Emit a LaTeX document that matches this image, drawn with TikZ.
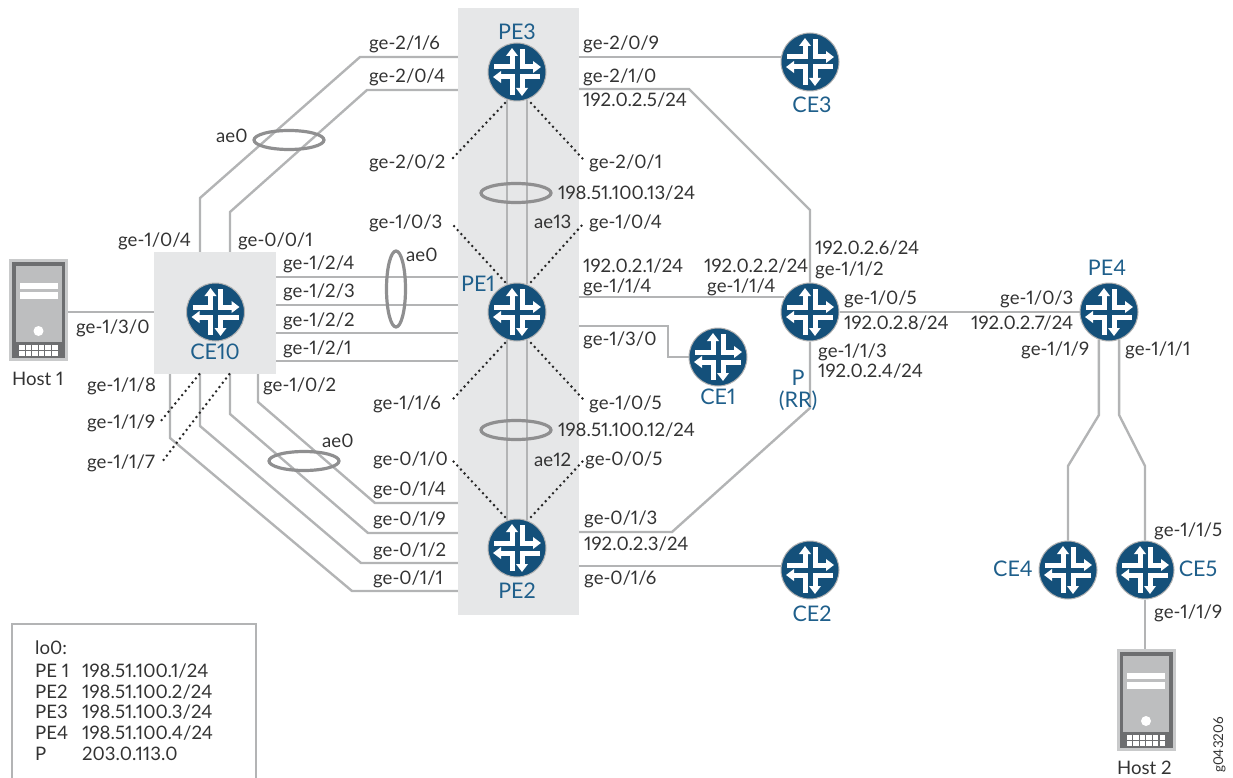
\documentclass[tikz,border=0pt]{standalone}
\usepackage{fontspec}
\setmainfont{Lato}[Numbers=Proportional]
\usepackage{xcolor}
\usetikzlibrary{arrows.meta,positioning,shapes.geometric,backgrounds}
\definecolor{junosblue}{HTML}{14507A}
\definecolor{labelblue}{HTML}{1F5F8B}
\definecolor{linkgray}{HTML}{B3B4B5}
\definecolor{boxgray}{HTML}{E6E7E8}
\definecolor{lagray}{HTML}{8F8F90}
\definecolor{hostdark}{HTML}{6D6E70}
\definecolor{hostlight}{HTML}{BDBEBF}
\definecolor{hostrim}{HTML}{C9CACB}
\definecolor{textgray}{HTML}{333333}

\begin{document}
\begin{tikzpicture}[x=1pt,y=-1pt]
% STYLES
\tikzset{
    router/.style={circle, draw=gray!60, fill=junosblue, line width=1pt, minimum size=58pt, inner sep=0pt,
    path picture={
      \begin{scope}[shift={(path picture bounding box.center)}, white, line width=5pt,
          arrows={-{Triangle[width=11.5pt,length=8pt]}}]
        \draw[line cap=butt] (-23,-5) -- (-5,-5) -- (-5,-24);
        \draw[line cap=butt] (5,-23) -- (5,-5) -- (24,-5);
        \draw[line cap=butt] (-5,23) -- (-5,5) -- (-24,5);
        \draw[line cap=butt] (23,5) -- (5,5) -- (5,24);
      \end{scope}}},
    hostbox/.style={rectangle, draw=hostrim, fill=hostdark, line width=3pt, minimum width=56pt, minimum height=99pt, inner sep=0pt,
    path picture={
      \begin{scope}[shift={(path picture bounding box.center)}]
        \fill[hostlight] (-23,-44) rectangle (23,32);
        \fill[white] (-19,-27) rectangle (19,-21);
        \fill[white] (-19,-18) rectangle (19,-11);
        \fill[white] (0,21) circle (5);
        \foreach \col in {0,...,5} \foreach \row in {0,1}
          \fill[white] (-19.5+6.6*\col,35+6*\row) rectangle ++(5.5,5);
      \end{scope}}},
    lbl/.style={anchor=west, inner sep=0pt, text=textgray, text height=13pt, text depth=1pt, font=\fontsize{18.6}{20}\selectfont},
    rname/.style={inner sep=0pt, text=labelblue, font=\fontsize{21.5}{22}\selectfont},
    link/.style={draw=linkgray, line width=2.4pt, line join=miter},
    dots/.style={draw=black!85, line width=2.8pt, line cap=round, dash pattern=on 0pt off 5.4pt},
    lag/.style={ellipse, draw=lagray, line width=3.2pt, inner sep=0pt},
    grpbox/.style={rectangle, fill=boxgray, inner sep=0pt}
}
\useasboundingbox (0,0) rectangle (1233,778);

% routers
\node [router] (PE3) at (517,72) {};
\node [router, below=181pt of PE3] (PE1) {};
\node [router, below=177pt of PE1] (PE2) {};
\node [router, left=242.5pt of PE1] (CE10) {};
\node [router, right=234pt of PE1] (P) {};
\node [router, right=240pt of P] (PE4) {};
\node [router] (CE3) at (810,62) {};
\node [router] (CE1) at (718,357) {};
\node [router] (CE2) at (810,570) {};
\node [router] (CE4) at (1068,570) {};
\node [router, right=18pt of CE4] (CE5) {};
\node [hostbox] (Host1) at (38.5,310) {};
\node [hostbox] (Host2) at (1146,700) {};

% Draw the links between
\begin{scope}[on background layer]
\draw[link] (CE10) -- (CE10 -| Host1.east);
\draw[link] (CE10) -| (200,198) -- (360,57) -| (PE3);
\draw[link] (CE10) -| (230,212) -- (367,90) -| (PE3);
\foreach \y in {277,305,333,361}
  \draw[link] (CE10) |- (400,\y) -| (PE1);
\draw[link] (CE10) -| (170,438) -- (352,591) -| (PE2);
\draw[link] (CE10) -| (200,426) -- (361,563) -| (PE2);
\draw[link] (CE10) -| (230,414) -- (368,533) -| (PE2);
\draw[link] (CE10) -| (258,402) -- (375,503) -| (PE2);
\draw[link] (PE3) |- (CE3.170);
\draw[link] (PE3) |- (689,89) -- (810,210) -- (P);
\draw[link] (PE1) |- (P.150);
\draw[link] (PE1) |- (668,326) |- (CE1);
\draw[link] (P) -- (PE4);
\draw[link] (P) -- (810,408) -- (672,532) -| (PE2);
\draw[link] (PE2) |- (CE2.172);
\draw[link] (PE4.250) -- (PE4.250 |- 0,415) -- (1068,466) -- (CE4);
\draw[link] (PE4.290) -- (PE4.290 |- 0,415) -- (1145,466) -- (CE5);
\draw[link] (CE5) -- (CE5 |- Host2.north);
% grey panels on top of the link ends
\node [grpbox, minimum width=121pt, minimum height=607pt] (corebox) at (518,311.5) {};
\node [grpbox, minimum width=122pt, minimum height=122pt] (edgebox) at (215.3,313) {};
% lines inside the panel
\draw[link] (PE3.250) -- (PE1.110);
\draw[link] (PE3.290) -- (PE1.70);
\draw[link] (PE1.250) -- (PE2.110);
\draw[link] (PE1.290) -- (PE2.70);
\draw[dots] (PE3) ++(-12,31) -- (453,158);
\draw[dots] (PE3) ++(14,31) -- (583,159);
\draw[dots] (PE1) ++(-12,-30) -- (453,225);
\draw[dots] (PE1) ++(14,-30) -- (583,224);
\draw[dots] (PE1) ++(-12,31) -- (453,399);
\draw[dots] (PE1) ++(14,31) -- (583,399);
\draw[dots] (PE2) ++(-12,-31) -- (453,461);
\draw[dots] (PE2) ++(14,-31) -- (583,461);
\draw[dots] (edgebox.south) ++(-16,0) -- (160,422);
\draw[dots] (edgebox.south) ++(14,0) -- (162,462);
\end{scope}

% link aggregation rings
\node [lag, minimum width=70pt, minimum height=19pt] (aeTop) at (289,140) {};
\node [lag, minimum width=19pt, minimum height=76pt] (aeMid) at (396,289) {};
\node [lag, minimum width=70pt, minimum height=19pt] (aeLow) at (304,461) {};
\node [lag, minimum width=70pt, minimum height=19pt] (aeThirteen) at (516,193) {};
\node [lag, minimum width=70pt, minimum height=19pt] (aeTwelve) at (516,430) {};

% router names
\node [rname] (namePE3) at (517,32) {PE3};
\node [rname] (namePE1) at (478,284) {PE1};
\node [rname] (namePE2) at (517,591) {PE2};
\node [rname] (nameCE10) at (215,352) {CE10};
\node [rname] (nameCE3) at (812,105) {CE3};
\node [rname] (nameCE1) at (718,397) {CE1};
\node [rname] (nameCE2) at (812,614) {CE2};
\node [rname] (nameCE4) at (1013,569) {CE4};
\node [rname] (nameCE5) at (1198,569) {CE5};
\node [rname] (namePE4) at (1107,268) {PE4};
\node [rname, align=center] (nameP) at (798,390) {P\\(RR)};

% port labels
\node [lbl] (portCEa) at (118,240) {ge-1/0/4};
\node [lbl] (portCEb) at (238,240) {ge-0/0/1};
\node [lbl] (portCEc) at (283,263) {ge-1/2/4};
\node [lbl] (portCEd) at (283,291) {ge-1/2/3};
\node [lbl] (portCEe) at (283,320) {ge-1/2/2};
\node [lbl] (portCEf) at (283,348) {ge-1/2/1};
\node [lbl] (portCEg) at (76,327) {ge-1/3/0};
\node [lbl] (portCEh) at (87,385) {ge-1/1/8};
\node [lbl] (portCEi) at (87,422) {ge-1/1/9};
\node [lbl] (portCEj) at (87,462) {ge-1/1/7};
\node [lbl] (portCEk) at (263,385) {ge-1/0/2};
\node [lbl] (aeTopName) at (216,137) {ae0};
\node [lbl] (aeMidName) at (406,255) {ae0};
\node [lbl] (aeLowName) at (322,441) {ae0};
\node [lbl] (hostOne) at (12,379) {Host 1};

\node [lbl] (portThreeA) at (369,44) {ge-2/1/6};
\node [lbl] (portThreeB) at (369,77) {ge-2/0/4};
\node [lbl] (portThreeC) at (369,162) {ge-2/0/2};
\node [lbl] (portThreeD) at (583,44) {ge-2/0/9};
\node [lbl] (portThreeE) at (583,77) {ge-2/1/0};
\node [lbl] (ipThreeE) at (583,101) {192.0.2.5/24};
\node [lbl] (portThreeF) at (589,162) {ge-2/0/1};
\node [lbl] (ipThirteen) at (558,193) {198.51.100.13/24};
\node [lbl] (aeThirteenName) at (534,222) {ae13};

\node [lbl] (portOneA) at (369,222) {ge-1/0/3};
\node [lbl] (portOneB) at (589,222) {ge-1/0/4};
\node [lbl] (ipOneC) at (583,266) {192.0.2.1/24};
\node [lbl] (portOneC) at (583,286) {ge-1/1/4};
\node [lbl] (portOneD) at (583,339) {ge-1/3/0};
\node [lbl] (portOneE) at (373,403) {ge-1/1/6};
\node [lbl] (portOneF) at (589,403) {ge-1/0/5};
\node [lbl] (ipTwelve) at (558,430) {198.51.100.12/24};
\node [lbl] (aeTwelveName) at (534,460) {ae12};

\node [lbl] (portTwoA) at (373,459) {ge-0/1/0};
\node [lbl] (portTwoB) at (373,489) {ge-0/1/4};
\node [lbl] (portTwoC) at (373,519) {ge-0/1/9};
\node [lbl] (portTwoD) at (373,550) {ge-0/1/2};
\node [lbl] (portTwoE) at (373,578) {ge-0/1/1};
\node [lbl] (portTwoF) at (585,459) {ge-0/0/5};
\node [lbl] (portTwoG) at (584,518) {ge-0/1/3};
\node [lbl] (ipTwoG) at (584,544) {192.0.2.3/24};
\node [lbl] (portTwoH) at (584,578) {ge-0/1/6};

\node [lbl] (ipPa) at (704,266) {192.0.2.2/24};
\node [lbl] (portPa) at (707,286) {ge-1/1/4};
\node [lbl] (ipPb) at (815,248) {192.0.2.6/24};
\node [lbl] (portPb) at (815,269) {ge-1/1/2};
\node [lbl] (portPc) at (844,298) {ge-1/0/5};
\node [lbl] (ipPc) at (844,323) {192.0.2.8/24};
\node [lbl] (portPd) at (818,351) {ge-1/1/3};
\node [lbl] (ipPd) at (818,371) {192.0.2.4/24};

\node [lbl] (portFourA) at (1000,298) {ge-1/0/3};
\node [lbl] (ipFourA) at (971,323) {192.0.2.7/24};
\node [lbl] (portFourB) at (1021,349) {ge-1/1/9};
\node [lbl] (portFourC) at (1125,349) {ge-1/1/1};
\node [lbl] (portFiveA) at (1154,530) {ge-1/1/5};
\node [lbl] (portFiveB) at (1154,612) {ge-1/1/9};
\node [lbl] (hostTwo) at (1117,768) {Host 2};
\node [lbl, anchor=center, rotate=90, font=\fontsize{13.5}{15}\selectfont] (figId) at (1217,745) {g043206};

% loopback table
\node [rectangle, draw=linkgray, line width=2pt, minimum width=244pt, minimum height=170pt, inner sep=0pt] (legend) at (134,709) {};
\node [lbl] (loZero) at (35,648) {lo0:};
\node [lbl] (loA) at (35,671) {PE 1};
\node [lbl] (loAip) at (82,671) {198.51.100.1/24};
\node [lbl] (loB) at (35,692) {PE2};
\node [lbl] (loBip) at (82,692) {198.51.100.2/24};
\node [lbl] (loC) at (35,712) {PE3};
\node [lbl] (loCip) at (82,712) {198.51.100.3/24};
\node [lbl] (loD) at (35,733) {PE4};
\node [lbl] (loDip) at (82,733) {198.51.100.4/24};
\node [lbl] (loE) at (35,754) {P};
\node [lbl] (loEip) at (82,754) {203.0.113.0};
\end{tikzpicture}
\end{document}
